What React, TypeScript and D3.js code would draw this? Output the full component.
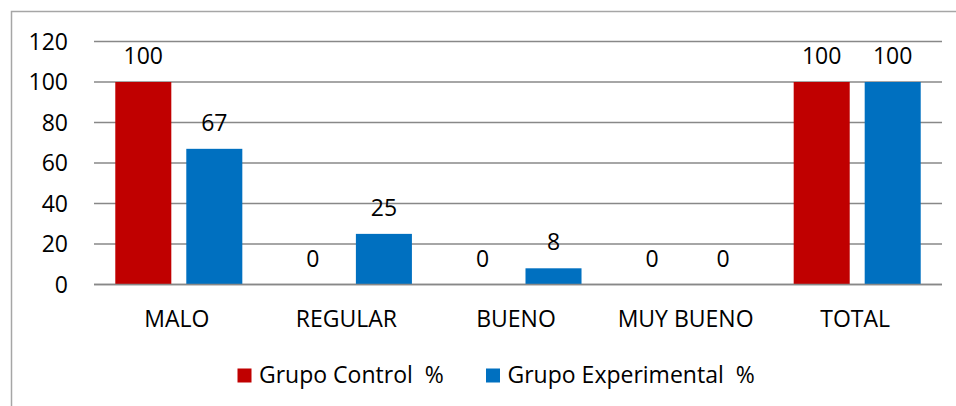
import React from "react";
import * as d3 from "d3";

const categories = ["MALO", "REGULAR", "BUENO", "MUY BUENO", "TOTAL"];
const seriesNames = ["Grupo Control  %", "Grupo Experimental  %"];
const controlValues = [100, 0, 0, 0, 100];
const experimentalValues = [67, 25, 8, 0, 100];
const yTicks = [0, 20, 40, 60, 80, 100, 120];
const colors = ["#C00000", "#0070C0"];

const W = 956;
const H = 406;
const FONT = "'Open Sans', 'Noto Sans', sans-serif";

export default function App() {
  const plotLeft = 94;
  const plotRight = 942;
  const y0 = 284.5;
  const yTop = 41.5;

  const x = d3.scaleBand<string>().domain(categories).range([plotLeft, plotRight]).paddingInner(0.251).paddingOuter(0.1255);
  const xInner = d3.scaleBand<number>().domain([0, 1]).range([0, x.bandwidth()]).paddingInner(0.211).paddingOuter(0);
  const y = d3.scaleLinear().domain([0, 120]).range([y0, yTop]);

  const series = [controlValues, experimentalValues];
  const legendX = [237.5, 486];

  return (
    <svg width={W} height={H} style={{ position: "absolute", left: 0, top: 0, background: "#fff" }} fontFamily={FONT}>
      <rect x={0} y={0} width={W} height={H} fill="#fff" />
      <rect x={11.5} y={11.5} width={1000} height={500} fill="#fff" stroke="#a6a6a6" strokeWidth={1.5} />
      {yTicks.map((t) => (
        <g key={t}>
          <line x1={plotLeft} x2={plotRight} y1={y(t)} y2={y(t)} stroke="#888" strokeWidth={1.5} />
          <text x={68} y={y(t)} dy="0.36em" textAnchor="end" fontSize={23} fill="#000">
            {t}
          </text>
        </g>
      ))}
      {series.map((vals, si) =>
        vals.map((v, ci) => {
          const bx = (x(categories[ci]) as number) + (xInner(si) as number);
          const bw = xInner.bandwidth();
          return (
            <g key={`${si}-${ci}`}>
              {v > 0 && <rect x={bx} y={y(v)} width={bw} height={y0 - y(v)} fill={colors[si]} />}
              <text x={bx + bw / 2} y={y(v) - 18} textAnchor="middle" fontSize={23} fill="#000">
                {v}
              </text>
            </g>
          );
        })
      )}
      <line x1={plotLeft} x2={plotRight} y1={y0} y2={y0} stroke="#888" strokeWidth={1.5} />
      {categories.map((c) => (
        <text key={c} x={(x(c) as number) + x.bandwidth() / 2 - 2} y={327} textAnchor="middle" fontSize={23} fill="#000">
          {c}
        </text>
      ))}
      {seriesNames.map((name, i) => (
        <g key={name}>
          <rect x={legendX[i]} y={368.5} width={14} height={14} fill={colors[i]} />
          <text x={legendX[i] + 21.5} y={383} fontSize={23} fill="#000" style={{ whiteSpace: "pre" }}>
            {name}
          </text>
        </g>
      ))}
    </svg>
  );
}
